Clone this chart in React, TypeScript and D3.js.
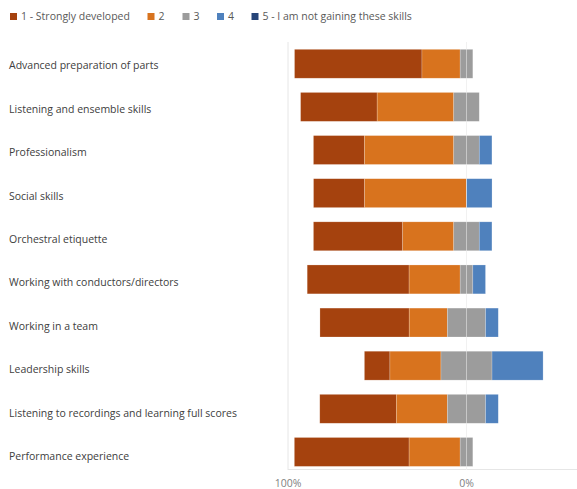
import React from "react";
import * as d3 from "d3";

const categories = [
  "Advanced preparation of parts",
  "Listening and ensemble skills",
  "Professionalism",
  "Social skills",
  "Orchestral etiquette",
  "Working with conductors/directors",
  "Working in a team",
  "Leadership skills",
  "Listening to recordings and learning full scores",
  "Performance experience",
];

const seriesNames = ["1 - Strongly developed", "2", "3", "4", "5 - I am not gaining these skills"];

// percentages per category
const level1 = [71.4, 42.9, 28.6, 28.6, 50.0, 57.1, 50.0, 14.3, 42.9, 64.3];
const level2 = [21.4, 42.9, 50.0, 57.1, 28.6, 28.6, 21.4, 28.6, 28.6, 28.6];
const level3 = [7.1, 14.3, 14.3, 0, 14.3, 7.1, 21.4, 28.6, 21.4, 7.1];
const level4 = [0, 0, 7.1, 14.3, 7.1, 7.1, 7.1, 28.6, 7.1, 0];
const level5 = [0, 0, 0, 0, 0, 0, 0, 0, 0, 0];

const tickValues = [-100, 0];
const tickLabels = ["100%", "0%"];

const colors = ["#A5420E", "#D8731E", "#9C9C9C", "#4F81BD", "#264478"];

export default function App() {
  const width = 577;
  const height = 489;
  const x = d3.scaleLinear().domain([-100, 0]).range([288, 466.5]);
  const y = d3.scaleBand<string>().domain(categories).range([42.2, 473.5]).paddingInner(0.33).paddingOuter(0.165);
  const yLabel = d3.scalePoint<string>().domain(categories).range([65.5, 456.5]);
  const font = "'Open Sans', 'Noto Sans', sans-serif";

  const series = [level1, level2, level3, level4, level5];
  const bars: { key: string; x0: number; x1: number; cat: string; color: string }[] = [];
  categories.forEach((cat, i) => {
    let start = -(level1[i] + level2[i] + level3[i] / 2);
    series.forEach((s, j) => {
      const v = s[i];
      if (v > 0) {
        bars.push({ key: `${i}-${j}`, x0: start, x1: start + v, cat, color: colors[j] });
      }
      start += v;
    });
  });

  const legendX = [10, 147.5, 182.5, 217, 251.5];

  return (
    <svg width={width} height={height} style={{ position: "absolute", left: 0, top: 0, background: "#fff" }}>
      {/* legend */}
      {seriesNames.map((name, j) => (
        <g key={name}>
          <rect x={legendX[j]} y={13} width={7} height={7} fill={colors[j]} />
          <text x={legendX[j] + 11} y={16.5} dy="0.35em" fontFamily={font} fontSize={10.5} fill="#595959">
            {name}
          </text>
        </g>
      ))}
      {/* gridlines */}
      {tickValues.map((t) => (
        <line key={t} x1={x(t)} x2={x(t)} y1={42} y2={470} stroke="#e6e6e6" strokeWidth={1} />
      ))}
      <line x1={288} x2={577} y1={469.5} y2={469.5} stroke="#e6e6e6" strokeWidth={1} />
      {/* bars */}
      {bars.map((b) => (
        <rect
          key={b.key}
          x={x(b.x0)}
          y={y(b.cat)!}
          width={x(b.x1) - x(b.x0)}
          height={y.bandwidth()}
          fill={b.color}
          stroke="#fff"
          strokeOpacity={0.35}
          strokeWidth={0.6}
        />
      ))}
      <line x1={x(0)} x2={x(0)} y1={42} y2={470} stroke="#ffffff" strokeOpacity={0.45} strokeWidth={1} />
      {/* category labels */}
      {categories.map((c) => (
        <text key={c} x={9} y={yLabel(c)!} dy="0.35em" fontFamily={font} fontSize={10.5} fill="#404040">
          {c}
        </text>
      ))}
      {/* axis labels */}
      {tickValues.map((t, i) => (
        <text key={t} x={x(t)} y={483.5} dy="0.35em" textAnchor="middle" fontFamily={font} fontSize={10.5} fill="#7f7f7f">
          {tickLabels[i]}
        </text>
      ))}
    </svg>
  );
}
